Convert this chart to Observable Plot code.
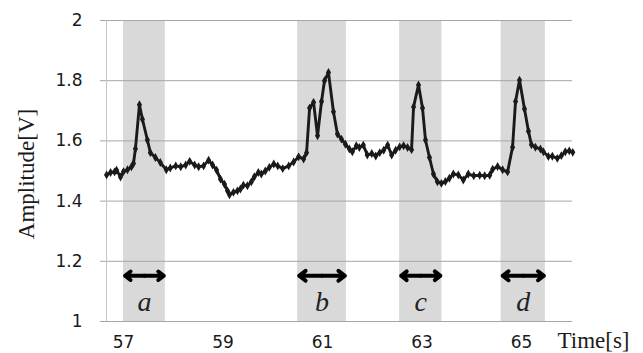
<!DOCTYPE html>
<html><head><meta charset="utf-8">
<script src="https://cdn.jsdelivr.net/npm/d3@7"></script>
<script src="https://cdn.jsdelivr.net/npm/@observablehq/plot@0.6"></script>
<style>body{margin:0;background:#fff}</style>
</head><body><div id="chart"></div>
<script>
const times = [56.66,56.74,56.82,56.86,56.94,57.00,57.08,57.16,57.20,57.24,57.32,57.38,57.48,57.54,57.64,57.74,57.86,57.94,58.05,58.15,58.25,58.33,58.43,58.51,58.61,58.71,58.79,58.87,58.95,59.03,59.09,59.13,59.21,59.29,59.35,59.41,59.49,59.57,59.63,59.71,59.77,59.85,59.93,60.02,60.10,60.20,60.32,60.42,60.52,60.62,60.68,60.74,60.82,60.90,60.98,61.04,61.12,61.22,61.30,61.38,61.46,61.54,61.60,61.68,61.74,61.82,61.90,61.99,62.07,62.15,62.23,62.31,62.39,62.47,62.55,62.63,62.71,62.79,62.83,62.93,63.01,63.07,63.15,63.23,63.31,63.39,63.47,63.55,63.63,63.73,63.83,63.93,64.04,64.16,64.26,64.36,64.42,64.52,64.62,64.72,64.82,64.88,64.96,65.06,65.14,65.20,65.28,65.38,65.44,65.54,65.62,65.72,65.80,65.88,65.96,66.03];
const amplitudes = [1.487,1.495,1.497,1.503,1.480,1.498,1.504,1.514,1.525,1.574,1.720,1.672,1.603,1.561,1.545,1.528,1.504,1.510,1.517,1.514,1.520,1.532,1.520,1.514,1.517,1.536,1.520,1.503,1.473,1.456,1.434,1.421,1.429,1.434,1.440,1.453,1.451,1.464,1.481,1.495,1.490,1.500,1.512,1.523,1.517,1.508,1.517,1.530,1.547,1.540,1.561,1.709,1.728,1.617,1.731,1.800,1.827,1.697,1.623,1.606,1.589,1.573,1.564,1.584,1.578,1.586,1.553,1.558,1.550,1.561,1.569,1.586,1.553,1.569,1.580,1.584,1.578,1.571,1.713,1.786,1.709,1.603,1.545,1.490,1.464,1.459,1.465,1.476,1.490,1.487,1.470,1.490,1.484,1.486,1.484,1.486,1.506,1.515,1.504,1.497,1.579,1.731,1.802,1.706,1.632,1.587,1.579,1.573,1.564,1.548,1.549,1.542,1.551,1.564,1.567,1.562];
const bandStart = [57.00, 60.50, 62.55, 64.59];
const bandEnd = [57.84, 61.48, 63.40, 65.48];
const bandLabels = ["a", "b", "c", "d"];
const xTicks = [57, 59, 61, 63, 65];
const yTicks = [1, 1.2, 1.4, 1.6, 1.8, 2];
const xDomain = [56.658, 66.025];
const yDomain = [1, 2];
const xLabel = "Time[s]";
const yLabel = "Amplitude[V]";
const arrowY = 1.152;
const letterY = 1.065;

const signal = times.map((t, i) => ({t, v: amplitudes[i]}));
const bands = bandLabels.map((k, i) => ({k, x1: bandStart[i], x2: bandEnd[i], mid: (bandStart[i] + bandEnd[i]) / 2}));

const chart = Plot.plot({
  width: 643, height: 353,
  marginLeft: 106, marginRight: 71, marginTop: 20, marginBottom: 32,
  x: {domain: xDomain},
  y: {domain: yDomain},
  style: {background: "#fff", fontFamily: "DejaVu Sans"},
  marks: [
    Plot.rect(bands, {x1: "x1", x2: "x2", y1: () => yDomain[0], y2: () => yDomain[1], fill: "#d9d9d9"}),
    Plot.ruleY(yTicks, {stroke: "#a6a6a6", strokeWidth: 1}),
    Plot.ruleX([xDomain[0]], {stroke: "#c4c4c4", strokeWidth: 1}),
    Plot.axisY(yTicks, {tickSize: 6, tickPadding: 18, stroke: "#a6a6a6", fill: "#1a1a1a", fontSize: 17, tickFormat: d => String(+d.toFixed(1)), label: null}),
    Plot.axisX(xTicks, {tickSize: 0, tickPadding: 14, fill: "#1a1a1a", fontSize: 17, tickFormat: d => String(d), label: null}),
    Plot.line(signal, {x: "t", y: "v", stroke: "#1a1a1a", strokeWidth: 2.9}),
    Plot.dot(signal, {x: "t", y: "v", symbol: "diamond", r: 2.7, fill: "#1a1a1a", stroke: null}),
    Plot.arrow(bands, {x1: "mid", x2: "x1", y1: () => arrowY, y2: () => arrowY, stroke: "#000", strokeWidth: 4, headLength: 11, headAngle: 75, insetEnd: 1.5}),
    Plot.arrow(bands, {x1: "mid", x2: "x2", y1: () => arrowY, y2: () => arrowY, stroke: "#000", strokeWidth: 4, headLength: 11, headAngle: 75, insetEnd: 1.5}),
    Plot.text(bands, {x: "mid", y: () => letterY, text: "k", fontSize: 28, fontStyle: "italic", fontFamily: "Liberation Serif", fill: "#222"}),
    Plot.text([yLabel], {text: d => d, frameAnchor: "left", dx: -80, dy: 3, rotate: -90, textAnchor: "middle", lineAnchor: "middle", fontSize: 23, fontFamily: "Liberation Serif", fill: "#1a1a1a"}),
    Plot.text([xLabel], {text: d => d, frameAnchor: "bottom-right", dx: -15, dy: 19, textAnchor: "start", lineAnchor: "middle", fontSize: 23, fontFamily: "Liberation Serif", fill: "#1a1a1a"})
  ]
});
document.getElementById("chart").appendChild(chart);
</script>
</body></html>
